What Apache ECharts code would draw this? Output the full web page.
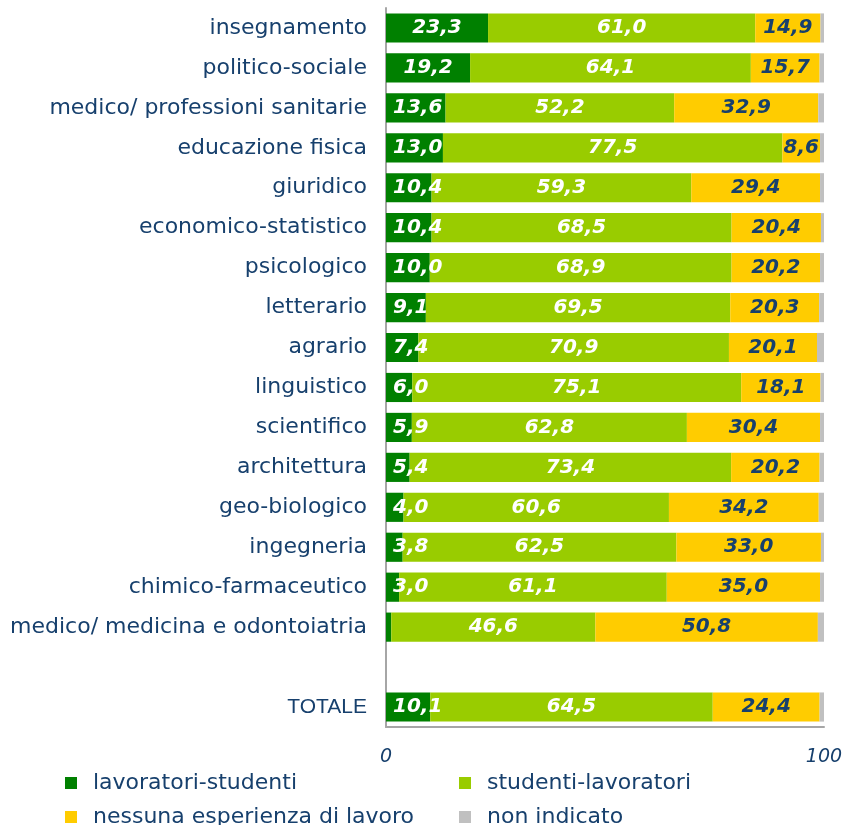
<!DOCTYPE html>
<html>
<head>
<meta charset="utf-8">
<script src="https://cdn.jsdelivr.net/npm/echarts@6/dist/echarts.min.js"></script>
<style>
  html, body { margin: 0; padding: 0; background: #fff; }
  #chart { width: 849px; height: 825px; }
</style>
</head>
<body>
<div id="chart"></div>
<script>
const categories = [
    'insegnamento', 'politico-sociale', 'medico/ professioni sanitarie', 'educazione fisica',
    'giuridico', 'economico-statistico', 'psicologico', 'letterario', 'agrario', 'linguistico',
    'scientifico', 'architettura', 'geo-biologico', 'ingegneria', 'chimico-farmaceutico',
    'medico/ medicina e odontoiatria', '', 'TOTALE'
];
const lavoratoriStudenti = [23.3, 19.2, 13.6, 13.0, 10.4, 10.4, 10.0, 9.1, 7.4, 6.0, 5.9, 5.4, 4.0, 3.8, 3.0, 1.2, null, 10.1];
const studentiLavoratori = [61.0, 64.1, 52.2, 77.5, 59.3, 68.5, 68.9, 69.5, 70.9, 75.1, 62.8, 73.4, 60.6, 62.5, 61.1, 46.6, null, 64.5];
const nessunaEsperienza = [14.9, 15.7, 32.9, 8.6, 29.4, 20.4, 20.2, 20.3, 20.1, 18.1, 30.4, 20.2, 34.2, 33.0, 35.0, 50.8, null, 24.4];
const nonIndicato = [0.8, 1.0, 1.3, 0.9, 0.9, 0.7, 0.9, 1.1, 1.6, 0.8, 0.9, 1.0, 1.2, 0.7, 0.9, 1.4, null, 1.0];
const seriesNames = ['lavoratori-studenti', 'studenti-lavoratori', 'nessuna esperienza di lavoro', 'non indicato'];
const colors = ['#008000', '#99CC00', '#FFCC00', '#C0C0C0'];

const navy = '#17406D';
const fmt = p => p.value.toFixed(1).replace('.', ',');

const chart = echarts.init(document.getElementById('chart'));

const labelBase = {
    show: true,
    fontFamily: 'DejaVu Sans',
    fontSize: 20,
    fontWeight: 'bold',
    fontStyle: 'italic',
    formatter: fmt
};

// small dark-green bars: label pinned to the left edge like the original
const firstData = lavoratoriStudenti.map(v => {
    if (v == null) return null;
    if (v < 2) return { value: v, label: { show: false } };
    if (v < 14.2) return { value: v, label: { position: 'insideLeft', distance: 7 } };
    return v;
});

const option = {
    animation: false,
    grid: { left: 386, right: 25, top: 8, bottom: 98 },
    xAxis: {
        type: 'value',
        min: 0,
        max: 100,
        interval: 100,
        splitLine: { show: false },
        axisTick: { show: false },
        axisLine: { show: true, lineStyle: { color: '#A6A6A6', width: 2 } },
        axisLabel: {
            color: navy,
            fontFamily: 'DejaVu Sans',
            fontSize: 19,
            fontStyle: 'italic',
            margin: 21
        }
    },
    yAxis: {
        type: 'category',
        inverse: true,
        data: categories,
        axisTick: { show: false },
        axisLine: { show: true, lineStyle: { color: '#A6A6A6', width: 2 } },
        axisLabel: {
            color: navy,
            fontFamily: 'DejaVu Sans',
            fontSize: 22,
            margin: 19,
            formatter: v => v === 'TOTALE' ? '{t|' + v + '}' : v,
            rich: {
                t: { fontFamily: 'Liberation Sans', fontSize: 21, color: navy }
            }
        }
    },
    legend: {
        left: 65,
        top: 769,
        width: 800,
        padding: 0,
        itemWidth: 12,
        itemHeight: 12,
        itemGap: 6,
        icon: 'rect',
        data: seriesNames,
        textStyle: {
            color: navy,
            fontFamily: 'DejaVu Sans',
            fontSize: 22,
            width: 360,
            lineHeight: 28,
            padding: [0, 0, 0, 11]
        }
    },
    series: [
        {
            name: seriesNames[0],
            type: 'bar',
            stack: 'tot',
            barCategoryGap: '27%',
            data: firstData,
            itemStyle: { color: colors[0] },
            label: Object.assign({}, labelBase, { color: '#fff', position: 'inside' })
        },
        {
            name: seriesNames[1],
            type: 'bar',
            stack: 'tot',
            data: studentiLavoratori,
            itemStyle: { color: colors[1] },
            label: Object.assign({}, labelBase, { color: '#fff', position: 'inside' })
        },
        {
            name: seriesNames[2],
            type: 'bar',
            stack: 'tot',
            data: nessunaEsperienza,
            itemStyle: { color: colors[2] },
            label: Object.assign({}, labelBase, { color: navy, position: 'inside' })
        },
        {
            name: seriesNames[3],
            type: 'bar',
            stack: 'tot',
            data: nonIndicato,
            itemStyle: { color: colors[3] },
            label: { show: false }
        }
    ]
};

chart.setOption(option);
</script>
</body>
</html>
